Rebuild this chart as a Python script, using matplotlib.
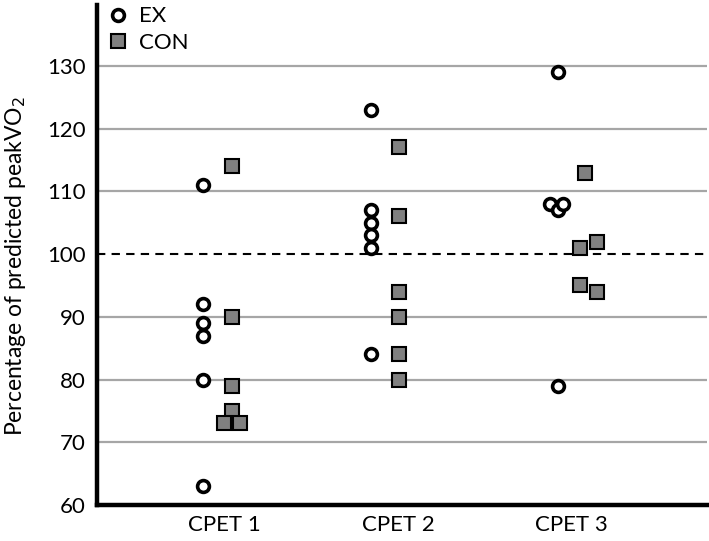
import numpy as np
import matplotlib
matplotlib.use("Agg")
import matplotlib.pyplot as plt
from matplotlib.lines import Line2D

# data
categories = ["CPET 1", "CPET 2", "CPET 3"]

ex_values = [
    [111, 92, 89, 87, 80, 63],
    [123, 107, 105, 103, 101, 84],
    [129, 108, 107, 108, 79],
]
con_values = [
    [114, 90, 79, 75, 73, 73],
    [117, 106, 94, 90, 84, 80],
    [113, 102, 101, 95, 94],
]
# manual horizontal jitter (offset from the category position)
ex_jitter = [
    [-0.124] * 6,
    [-0.156] * 6,
    [-0.078, -0.124, -0.078, -0.049, -0.078],
]
con_jitter = [
    [0.043, 0.043, 0.043, 0.043, -0.003, 0.089],
    [0.006] * 6,
    [0.078, 0.147, 0.049, 0.049, 0.147],
]
y_ticks = [60, 70, 80, 90, 100, 110, 120, 130]

plt.rcParams['font.family'] = ['Lato', 'DejaVu Sans']

fig = plt.figure(figsize=(7.09, 5.41), dpi=100)
ax = fig.add_axes([97 / 709, 36 / 541, 610 / 709, 500 / 541])

for y in y_ticks[1:]:
    if y == 100:
        ax.axhline(y, color='black', lw=1.5, ls=(0, (4, 3)), zorder=1)
    else:
        ax.axhline(y, color='#a6a6a6', lw=1.6, zorder=1)

for i in range(len(categories)):
    xe = np.array(ex_jitter[i]) + i + 1
    xc = np.array(con_jitter[i]) + i + 1
    ax.plot(xe, ex_values[i], ls='none', marker='o', ms=8.5, mfc='white',
            mec='black', mew=2.6, zorder=3)
    ax.plot(xc, con_values[i], ls='none', marker='s', ms=10, mfc='#808080',
            mec='black', mew=1.5, zorder=3)

ax.set_xlim(0.265, 3.78)
ax.set_ylim(60, 139.7)
ax.set_xticks([1, 2, 3])
ax.set_xticklabels(categories)
ax.set_yticks(y_ticks)
ax.tick_params(length=0, labelsize=16, pad=7)
ax.tick_params(axis='y', pad=8)

for side in ['top', 'right']:
    ax.spines[side].set_visible(False)
for side in ['left', 'bottom']:
    ax.spines[side].set_linewidth(3.2)
    ax.spines[side].set_color('black')

ax.set_ylabel('Percentage of predicted peakVO$_2$', fontsize=16.5)
ax.yaxis.set_label_coords(-0.113, 0.478)

handles = [
    Line2D([], [], ls='none', marker='o', ms=8.5, mfc='white', mec='black', mew=2.6),
    Line2D([], [], ls='none', marker='s', ms=10, mfc='#808080', mec='black', mew=1.5),
]
ax.legend(handles, ['EX', 'CON'], loc='upper left', bbox_to_anchor=(-0.026, 1.037),
          frameon=False, fontsize=16, handletextpad=0.2, labelspacing=0.3,
          handlelength=1.5)

fig.savefig('out.png', dpi=100)
